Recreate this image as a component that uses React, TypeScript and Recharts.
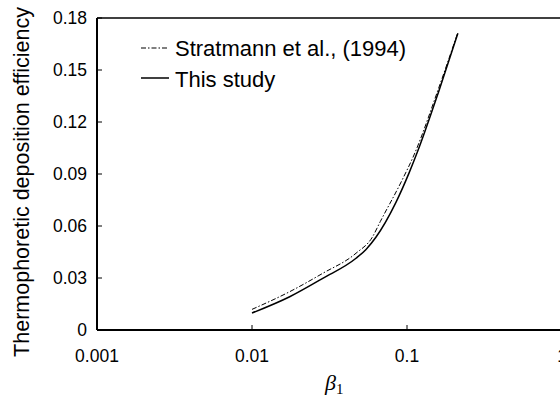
import React from 'react';
import { LineChart, Line, XAxis, YAxis, ReferenceLine, Legend, Label } from 'recharts';

// beta_1 values and deposition efficiency
const stratmannX = [0.01, 0.0175, 0.0286, 0.0469, 0.0597, 0.0672, 0.093, 0.111, 0.16, 0.212];
const stratmannY = [0.0119, 0.0221, 0.0327, 0.0443, 0.0535, 0.0625, 0.0865, 0.101, 0.1395, 0.1712];
const studyX = [0.01, 0.0175, 0.0286, 0.0469, 0.0544, 0.063, 0.0847, 0.103, 0.1165, 0.16, 0.213];
const studyY = [0.0098, 0.0192, 0.0298, 0.0414, 0.0465, 0.0535, 0.0735, 0.0905, 0.1025, 0.1375, 0.1712];

const xTicks = [0.001, 0.01, 0.1, 1];
const xTickLabels = ['0.001', '0.01', '0.1', '1'];
const yTicks = [0, 0.03, 0.06, 0.09, 0.12, 0.15, 0.18];
const yTickLabels = ['0', '0.03', '0.06', '0.09', '0.12', '0.15', '0.18'];

const seriesNames = ['Stratmann et al., (1994)', 'This study'];

const stratmannData = stratmannX.map((x, i) => ({ x, y: stratmannY[i] }));
const studyData = studyX.map((x, i) => ({ x, y: studyY[i] }));

const FONT = 'Arial, "Liberation Sans", sans-serif';
const DASH = '5 2 1.5 2';

const LegendBox = () => (
  <svg width={320} height={60} style={{ display: 'block' }}>
    <line x1={3} x2={31} y1={14} y2={14} stroke="#000" strokeWidth={1} strokeDasharray={DASH} />
    <text x={37} y={22} fontSize={22} fontFamily={FONT} fill="#000">{seriesNames[0]}</text>
    <line x1={3} x2={31} y1={44} y2={44} stroke="#000" strokeWidth={1.5} />
    <text x={37} y={53} fontSize={22} fontFamily={FONT} fill="#000">{seriesNames[1]}</text>
  </svg>
);

export default function App() {
  return (
    <div style={{ position: 'absolute', left: 0, top: 0, width: 560, height: 400, overflow: 'hidden', background: '#fff' }}>
      <LineChart width={600} height={400} margin={{ top: 18, right: 38, left: 0, bottom: 0 }}>
        <XAxis
          dataKey="x"
          type="number"
          scale="log"
          domain={[0.001, 1]}
          ticks={xTicks}
          tickFormatter={(v: number) => xTickLabels[xTicks.indexOf(v)] ?? String(v)}
          allowDataOverflow
          height={70}
          tickSize={-5}
          tickMargin={25}
          axisLine={{ stroke: '#000', strokeWidth: 2 }}
          tickLine={{ stroke: '#000', strokeWidth: 1 }}
          tick={{ fill: '#000', fontSize: 17.5, fontFamily: FONT }}
        >
          <Label
            content={() => (
              <text x={325} y={390} fontFamily='"Liberation Serif", "Times New Roman", serif' fill="#000">
                <tspan fontSize={22} fontStyle="italic">β</tspan>
                <tspan fontSize={15} dy={4}>1</tspan>
              </text>
            )}
          />
        </XAxis>
        <YAxis
          type="number"
          domain={[0, 0.18]}
          ticks={yTicks}
          tickFormatter={(v: number) => yTickLabels[yTicks.indexOf(v)] ?? String(v)}
          width={97}
          tickSize={-5}
          tickMargin={15}
          axisLine={{ stroke: '#000', strokeWidth: 2 }}
          tickLine={{ stroke: '#000', strokeWidth: 1 }}
          tick={{ fill: '#000', fontSize: 17.5, fontFamily: FONT }}
        >
          <Label
            content={() => (
              <text
                x={29}
                y={182}
                transform="rotate(-90 29 182)"
                textAnchor="middle"
                fontSize={21.5}
                fontFamily={FONT}
                fill="#000"
              >
                Thermophoretic deposition efficiency
              </text>
            )}
          />
        </YAxis>
        <ReferenceLine y={0.18} stroke="#000" strokeWidth={1.5} />
        <Legend
          layout="vertical"
          verticalAlign="middle"
          align="center"
          content={() => <LegendBox />}
          wrapperStyle={{ left: 138, top: 34, width: 320 }}
        />
        <Line
          data={stratmannData}
          dataKey="y"
          type="monotone"
          stroke="#000"
          strokeWidth={1}
          strokeDasharray={DASH}
          dot={false}
          isAnimationActive={false}
          name={seriesNames[0]}
        />
        <Line
          data={studyData}
          dataKey="y"
          type="monotone"
          stroke="#000"
          strokeWidth={1.5}
          dot={false}
          isAnimationActive={false}
          name={seriesNames[1]}
        />
      </LineChart>
    </div>
  );
}
